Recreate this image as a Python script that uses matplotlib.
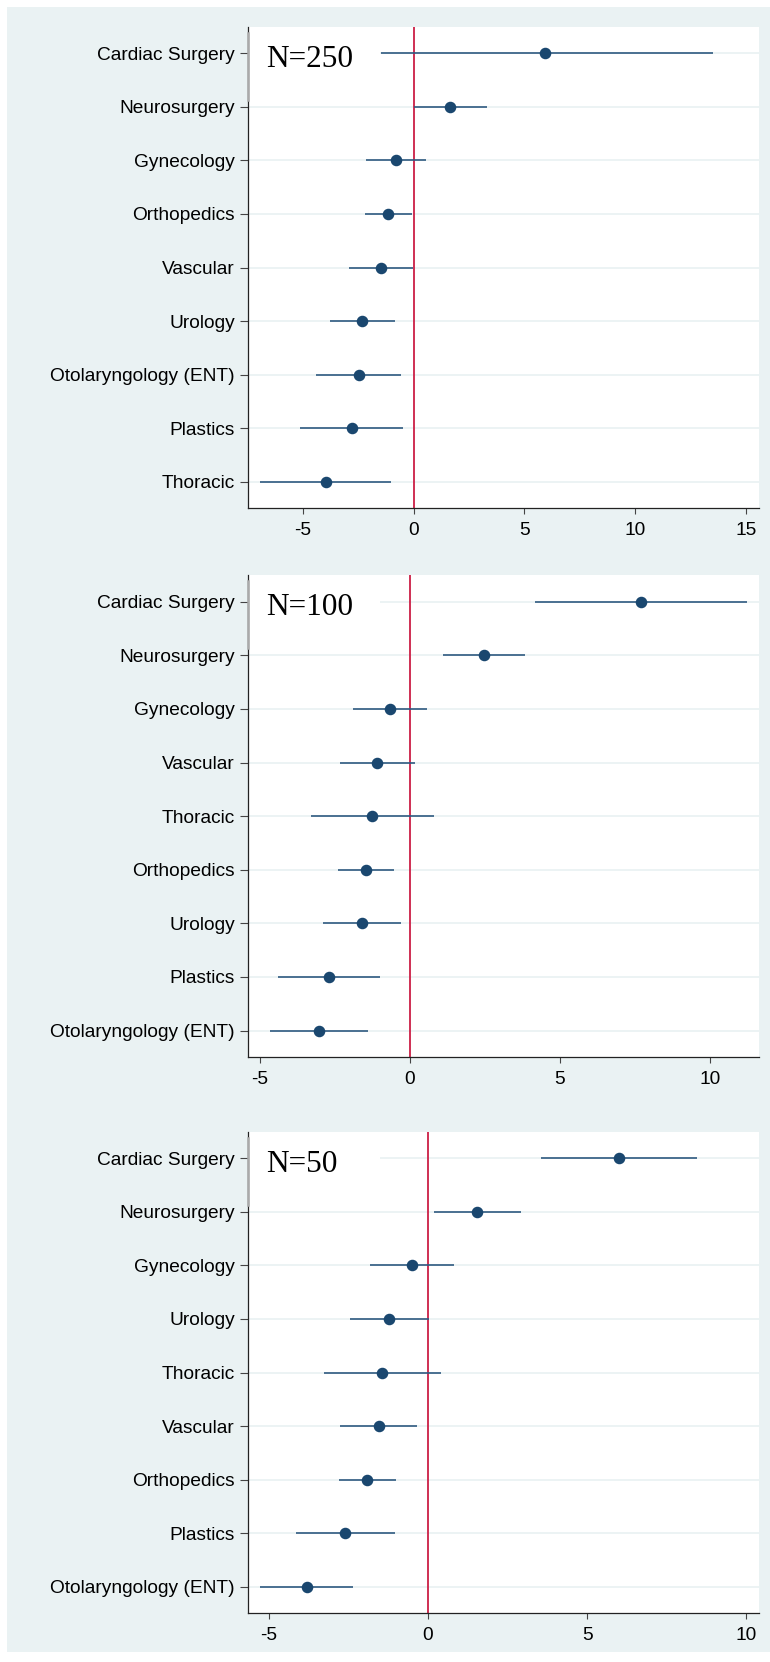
import matplotlib
matplotlib.use('Agg')
import matplotlib.pyplot as plt
from matplotlib.patches import Rectangle

plt.rcParams['font.family'] = ['Liberation Sans', 'DejaVu Sans']

# --- data (estimate, lower CI, upper CI) ---
labels_250 = ['Cardiac Surgery', 'Neurosurgery', 'Gynecology', 'Orthopedics', 'Vascular',
              'Urology', 'Otolaryngology (ENT)', 'Plastics', 'Thoracic']
est_250 = [5.91, 1.62, -0.78, -1.14, -1.47, -2.31, -2.48, -2.80, -3.97]
lo_250 = [-1.45, 0.0, -2.15, -2.20, -2.90, -3.78, -4.40, -5.12, -6.92]
hi_250 = [13.51, 3.29, 0.58, -0.09, -0.02, -0.83, -0.55, -0.49, -1.00]

labels_100 = ['Cardiac Surgery', 'Neurosurgery', 'Gynecology', 'Vascular', 'Thoracic',
              'Orthopedics', 'Urology', 'Plastics', 'Otolaryngology (ENT)']
est_100 = [7.70, 2.47, -0.68, -1.09, -1.25, -1.48, -1.60, -2.70, -3.03]
lo_100 = [4.18, 1.10, -1.91, -2.34, -3.31, -2.41, -2.89, -4.39, -4.66]
hi_100 = [11.24, 3.85, 0.57, 0.18, 0.79, -0.54, -0.30, -1.01, -1.40]

labels_50 = ['Cardiac Surgery', 'Neurosurgery', 'Gynecology', 'Urology', 'Thoracic',
             'Vascular', 'Orthopedics', 'Plastics', 'Otolaryngology (ENT)']
est_50 = [6.01, 1.55, -0.49, -1.22, -1.44, -1.55, -1.92, -2.60, -3.81]
lo_50 = [3.56, 0.19, -1.81, -2.44, -3.26, -2.76, -2.80, -4.13, -5.26]
hi_50 = [8.45, 2.92, 0.83, 0.04, 0.41, -0.35, -1.01, -1.04, -2.35]

titles = ['N=250', 'N=100', 'N=50']
xlims = [(-7.47, 15.58), (-5.40, 11.64), (-5.65, 10.40)]
xticks = [[-5, 0, 5, 10, 15], [-5, 0, 5, 10], [-5, 0, 5, 10]]

bg = '#EAF2F3'
navy = '#1A476F'
red = '#CC1F45'

W, H = 770, 1662
fig = plt.figure(figsize=(W / 100, H / 100), dpi=100, facecolor='white')
fig.patches.append(Rectangle((7 / W, 10 / H), 1 - 7 / W, 1 - 17 / H,
                             transform=fig.transFigure, facecolor=bg,
                             edgecolor='none', zorder=-10))

# panel tops / bottoms in pixels
panels_px = [(26.7, 508.3), (575.0, 1057.3), (1131.7, 1613.3)]
left_px, right_px = 248.0, 759.0

datasets = [(labels_250, est_250, lo_250, hi_250),
            (labels_100, est_100, lo_100, hi_100),
            (labels_50, est_50, lo_50, hi_50)]

for k, (labels, est, lo, hi) in enumerate(datasets):
    top, bot = panels_px[k]
    ax = fig.add_axes([left_px / W, 1 - bot / H, (right_px - left_px) / W, (bot - top) / H])
    ax.set_facecolor('white')
    ys = list(range(len(labels)))

    for y in ys:
        ax.axhline(y, color=bg, lw=1.3, zorder=0)

    # white box behind the N= label
    ax.add_patch(Rectangle((0, -0.5), 0.258, 1.37, transform=ax.get_yaxis_transform(),
                           facecolor='white', edgecolor='none', zorder=1))
    ax.plot([0, 0], [-0.38, 0.87], transform=ax.get_yaxis_transform(),
            color='#AAAAAA', lw=1.8, zorder=5, clip_on=False)

    ax.axvline(0, color=red, lw=1.3, zorder=2)
    ax.hlines(ys, lo, hi, color='#2F5A80', lw=1.2, zorder=3)
    ax.plot(est, ys, 'o', color=navy, ms=7.3, zorder=4)

    ax.text(0.035, 0.25, titles[k], transform=ax.get_yaxis_transform(),
            family=['Liberation Serif', 'DejaVu Serif'], fontsize=22.5,
            va='baseline', ha='left', zorder=6)

    ax.set_xlim(*xlims[k])
    ax.set_ylim(len(labels) - 0.5, -0.5)
    ax.set_yticks(ys)
    ax.set_yticklabels(labels)
    ax.set_xticks(xticks[k])
    ax.set_xticklabels([str(t) for t in xticks[k]])

    for s in ['top', 'right']:
        ax.spines[s].set_visible(False)
    for s in ['left', 'bottom']:
        ax.spines[s].set_color('#222222')
        ax.spines[s].set_linewidth(0.9)
    ax.tick_params(axis='y', length=6, width=0.8, color='#444444', pad=3.5, labelsize=13.8)
    ax.tick_params(axis='x', length=4, width=0.8, color='#444444', pad=6, labelsize=13.8)

fig.savefig('out.png', dpi=100, facecolor='white')
